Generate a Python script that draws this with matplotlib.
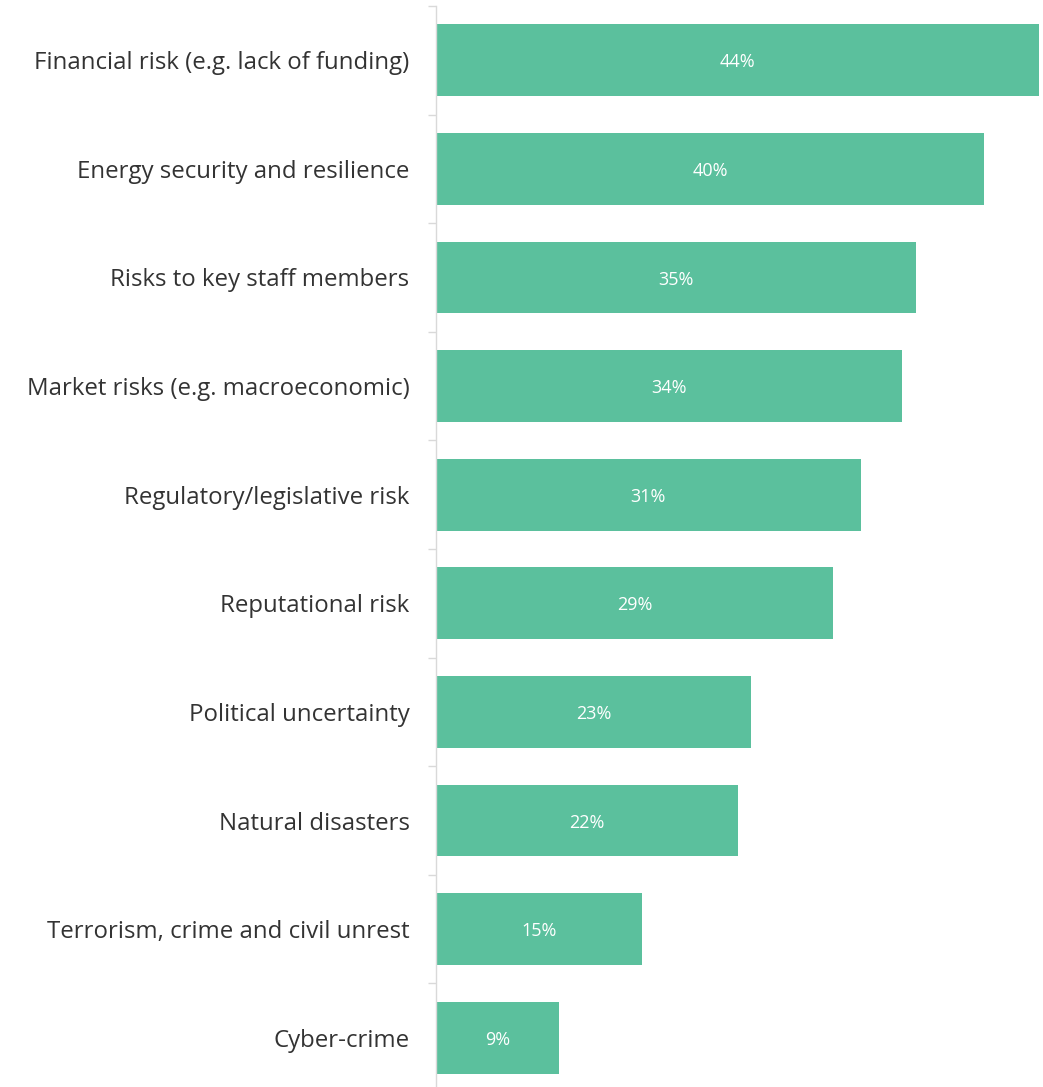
import numpy as np
import matplotlib.pyplot as plt

# Share of respondents naming each risk
categories = [
    "Financial risk (e.g. lack of funding)",
    "Energy security and resilience",
    "Risks to key staff members",
    "Market risks (e.g. macroeconomic)",
    "Regulatory/legislative risk",
    "Reputational risk",
    "Political uncertainty",
    "Natural disasters",
    "Terrorism, crime and civil unrest",
    "Cyber-crime",
]
values = [44, 40, 35, 34, 31, 29, 23, 22, 15, 9]

bar_color = "#5bc09d"
grid_color = "#d9d9d9"
text_color = "#333333"

plt.rcParams["font.family"] = ["Open Sans", "DejaVu Sans"]

fig = plt.figure(figsize=(10.43, 10.87), dpi=100)
W, H = 1043, 1087
left, right, top, bottom = 436, 1039, 6, 1092
ax = fig.add_axes([left / W, (H - bottom) / H, (right - left) / W, (bottom - top) / H])

y = np.arange(len(categories))
bars = ax.barh(y, values, height=0.66, color=bar_color, zorder=2)

for b, v in zip(bars, values):
    ax.text(b.get_width() / 2, b.get_y() + b.get_height() / 2 + 0.02, f"{v}%",
            ha="center", va="center", color="white", fontsize=13)

ax.set_xlim(0, 44)
ax.set_ylim(len(categories) - 0.5, -0.5)

ax.set_yticks(y)
ax.set_yticklabels(categories, fontsize=17.3, color=text_color)
ax.tick_params(axis="y", which="major", length=0, pad=19)
ax.set_yticks(np.arange(len(categories) + 1) - 0.5, minor=True)
ax.tick_params(axis="y", which="minor", length=6, width=1, color=grid_color)

ax.set_xticks([])
for side in ["top", "right", "bottom"]:
    ax.spines[side].set_visible(False)
ax.spines["left"].set_color(grid_color)
ax.spines["left"].set_linewidth(1)

fig.savefig("out.png", dpi=100)
